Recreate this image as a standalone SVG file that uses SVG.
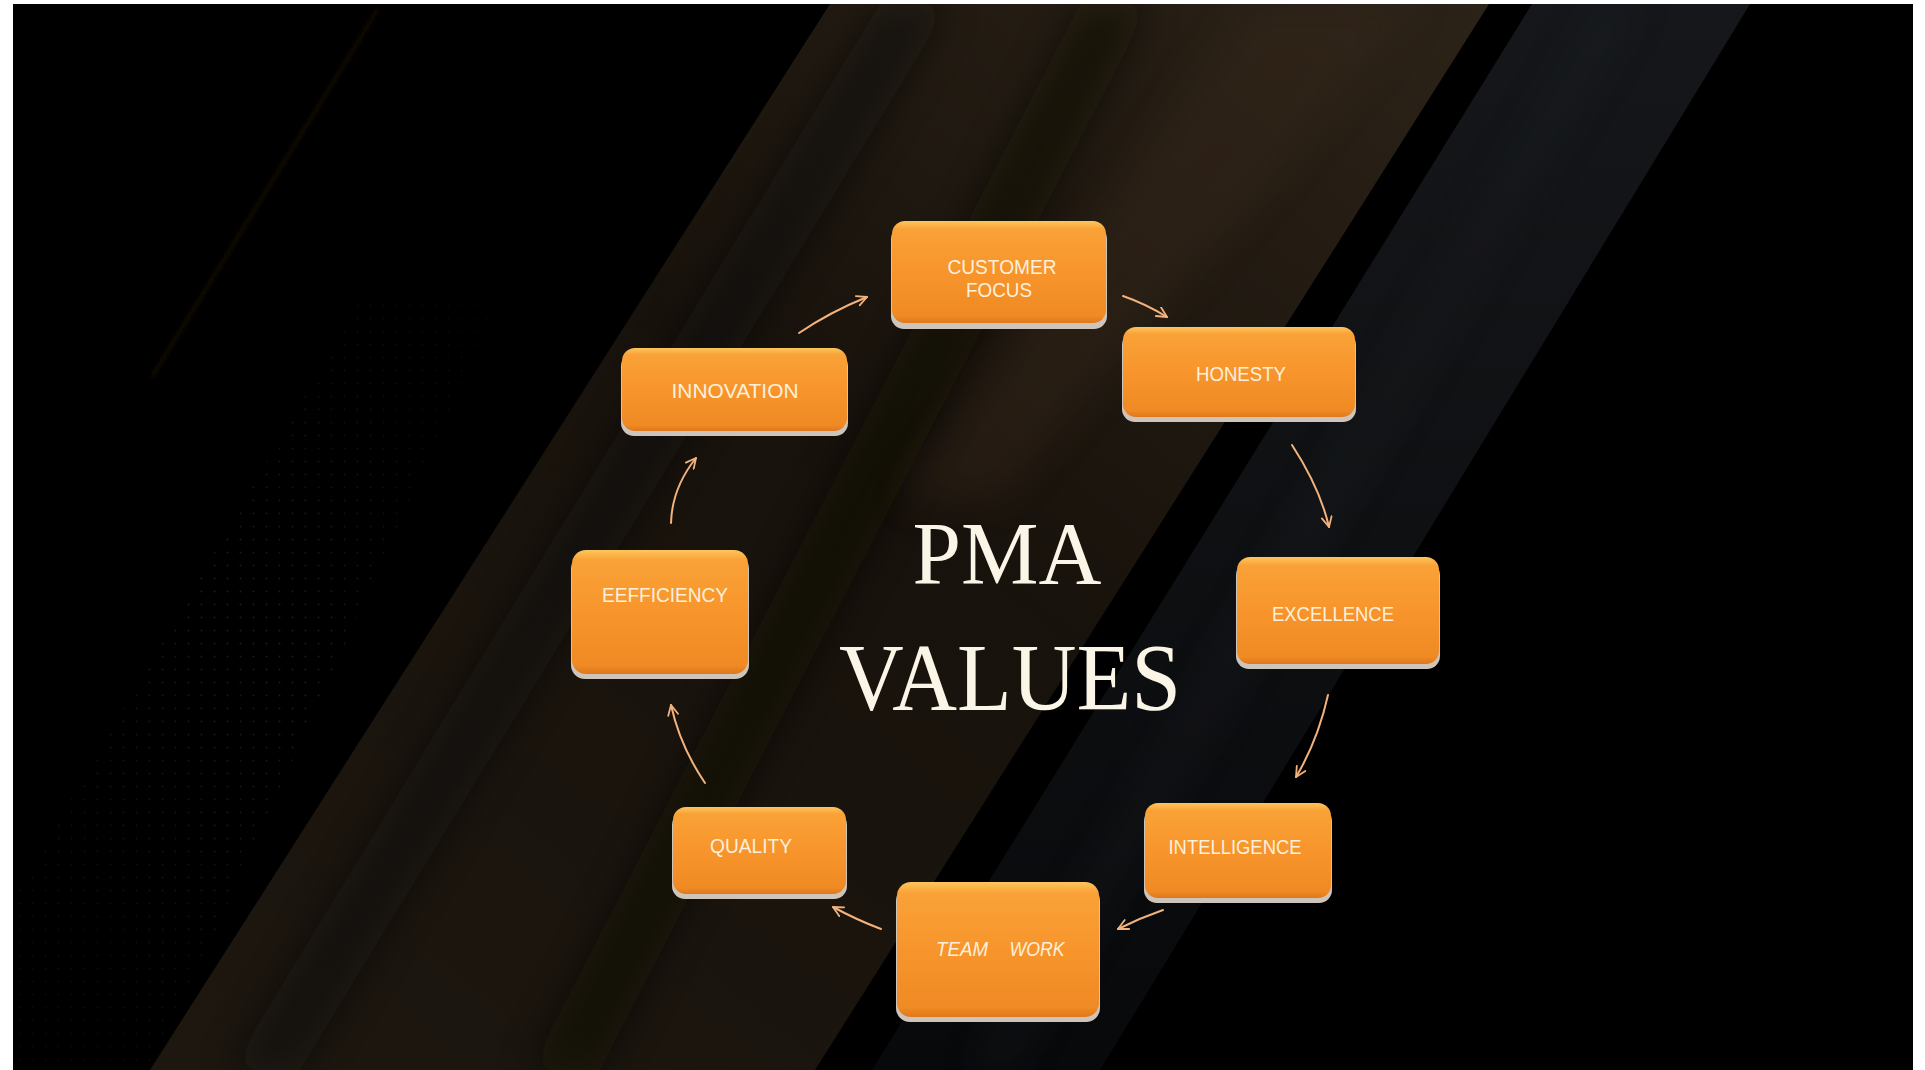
<svg xmlns="http://www.w3.org/2000/svg" width="1925" height="1070" viewBox="0 0 1925 1070">
<defs>
<style>
.box{fill:url(#gOrange)}
.rim{fill:#cdc5bc}
.lbl{font-family:"Liberation Sans",Arial,sans-serif;font-size:20px;fill:#fdf0dc;text-anchor:middle}
.it{font-style:italic}
.conn path{fill:none;stroke:#f3b27c;stroke-width:2;stroke-linecap:round;marker-end:url(#ah)}
.title{font-family:"Liberation Serif","Times New Roman",serif;fill:#fbf5e8;text-anchor:middle}
</style>
<clipPath id="frame"><rect x="13" y="4" width="1900" height="1066"/></clipPath>
<linearGradient id="gOrange" x1="0" y1="0" x2="0" y2="1">
<stop offset="0" stop-color="#fdc65c"/>
<stop offset="0.08" stop-color="#f9a237"/>
<stop offset="0.5" stop-color="#f7952c"/>
<stop offset="0.93" stop-color="#f08a24"/>
<stop offset="1" stop-color="#de781c"/>
</linearGradient>
<linearGradient id="gBrown" x1="1" y1="0" x2="0" y2="1">
<stop offset="0" stop-color="#2c2318"/>
<stop offset="0.45" stop-color="#18120c"/>
<stop offset="1" stop-color="#1d1710"/>
</linearGradient>
<linearGradient id="gGray" x1="0" y1="0" x2="0" y2="1">
<stop offset="0" stop-color="#15171a"/>
<stop offset="1" stop-color="#08090b"/>
</linearGradient>
<filter id="blur" x="-50%" y="-50%" width="200%" height="200%"><feGaussianBlur stdDeviation="18"/></filter>
<filter id="soft" x="-20%" y="-20%" width="140%" height="140%"><feGaussianBlur stdDeviation="4"/></filter>
<pattern id="dots" width="13" height="13" patternUnits="userSpaceOnUse">
<circle cx="6.5" cy="6.5" r="1" fill="#2e2e2e"/>
</pattern>
<linearGradient id="gFade" x1="0" y1="1" x2="1" y2="0">
<stop offset="0" stop-color="#fff" stop-opacity="0.15"/>
<stop offset="0.5" stop-color="#fff" stop-opacity="0.6"/>
<stop offset="1" stop-color="#fff" stop-opacity="0"/>
</linearGradient>
<mask id="dotMask"><rect x="0" y="250" width="560" height="820" fill="url(#gFade)"/></mask>
<marker id="ah" viewBox="0 0 12 12" refX="11" refY="6" markerWidth="12" markerHeight="12" markerUnits="userSpaceOnUse" orient="auto">
<path d="M1,1 L11,6 L1,11" fill="none" stroke="#f3b27c" stroke-width="1.8" stroke-linecap="round" stroke-linejoin="round"/>
</marker>
</defs>

<rect width="1925" height="1070" fill="#ffffff"/>
<g id="background" clip-path="url(#frame)">
<rect x="13" y="4" width="1900" height="1066" fill="#000000"/>
<polygon points="13,1070 13,900 360,300 500,300 185,1000 150,1070" fill="url(#dots)" mask="url(#dotMask)"/>
<line x1="380" y1="6" x2="150" y2="380" stroke="#1e150b" stroke-width="3" filter="url(#soft)"/>
<polygon points="830,4 1489,4 815,1070 150,1070" fill="url(#gBrown)"/>
<polygon points="1080,4 1150,4 600,1070 530,1070" fill="#0a0806" opacity="0.55" filter="url(#blur)"/>
<polygon points="1250,4 1420,4 1000,500 900,500" fill="#3a2c1a" opacity="0.35" filter="url(#blur)"/>
<polygon points="880,4 950,4 300,1070 230,1070" fill="#0d0a07" opacity="0.5" filter="url(#blur)"/>
<polygon points="1532,4 1750,4 1100,1070 872,1070" fill="url(#gGray)"/>
<polygon points="1600,4 1640,4 1010,1070 970,1070" fill="#24272c" opacity="0.25" filter="url(#blur)"/>
</g>

<g id="connectors" class="conn">
<path d="M799,333 Q830,312 867,297"/>
<path d="M1123,296 Q1146,304 1167,317"/>
<path d="M1292,445 Q1320,488 1329,527"/>
<path d="M1328,695 Q1318,740 1296,777"/>
<path d="M1163,910 Q1140,918 1118,929"/>
<path d="M881,929 Q857,920 833,907"/>
<path d="M705,783 Q680,746 671,705"/>
<path d="M671,523 Q672,488 696,458"/>
</g>

<g id="title">
<text class="title" x="1007" y="583" font-size="89" textLength="189" lengthAdjust="spacingAndGlyphs">PMA</text>
<text class="title" x="1010" y="710" font-size="95" textLength="342" lengthAdjust="spacingAndGlyphs">VALUES</text>
</g>

<g id="node-customer-focus">
<rect class="rim" x="891" y="226" width="216" height="103" rx="13"/>
<rect class="box" x="892" y="221" width="214" height="102" rx="13"/>
<text class="lbl" x="1002" y="274" textLength="109" lengthAdjust="spacingAndGlyphs">CUSTOMER</text>
<text class="lbl" x="999" y="297" textLength="66" lengthAdjust="spacingAndGlyphs">FOCUS</text>
</g>

<g id="node-honesty">
<rect class="rim" x="1122" y="332" width="234" height="90" rx="13"/>
<rect class="box" x="1123" y="327" width="232" height="90" rx="13"/>
<text class="lbl" x="1241" y="381" textLength="90" lengthAdjust="spacingAndGlyphs">HONESTY</text>
</g>

<g id="node-excellence">
<rect class="rim" x="1236" y="562" width="204" height="107" rx="13"/>
<rect class="box" x="1237" y="557" width="202" height="107" rx="13"/>
<text class="lbl" x="1333" y="621" textLength="122" lengthAdjust="spacingAndGlyphs">EXCELLENCE</text>
</g>

<g id="node-intelligence">
<rect class="rim" x="1144" y="808" width="188" height="95" rx="13"/>
<rect class="box" x="1145" y="803" width="186" height="95" rx="13"/>
<text class="lbl" x="1235" y="854" textLength="133" lengthAdjust="spacingAndGlyphs">INTELLIGENCE</text>
</g>

<g id="node-team-work">
<rect class="rim" x="896" y="887" width="204" height="135" rx="14"/>
<rect class="box" x="897" y="882" width="202" height="135" rx="14"/>
<text class="lbl it" x="962" y="956" textLength="52" lengthAdjust="spacingAndGlyphs">TEAM</text>
<text class="lbl it" x="1037" y="956" textLength="55" lengthAdjust="spacingAndGlyphs">WORK</text>
</g>

<g id="node-quality">
<rect class="rim" x="672" y="812" width="175" height="87" rx="13"/>
<rect class="box" x="673" y="807" width="173" height="87" rx="13"/>
<text class="lbl" x="751" y="853" textLength="82" lengthAdjust="spacingAndGlyphs">QUALITY</text>
</g>

<g id="node-efficiency">
<rect class="rim" x="571" y="555" width="178" height="124" rx="14"/>
<rect class="box" x="572" y="550" width="176" height="124" rx="14"/>
<text class="lbl" x="665" y="602" textLength="126" lengthAdjust="spacingAndGlyphs">EEFFICIENCY</text>
</g>

<g id="node-innovation">
<rect class="rim" x="621" y="353" width="227" height="83" rx="13"/>
<rect class="box" x="622" y="348" width="225" height="83" rx="13"/>
<text class="lbl" x="735" y="398" textLength="127" lengthAdjust="spacingAndGlyphs">INNOVATION</text>
</g>
</svg>
